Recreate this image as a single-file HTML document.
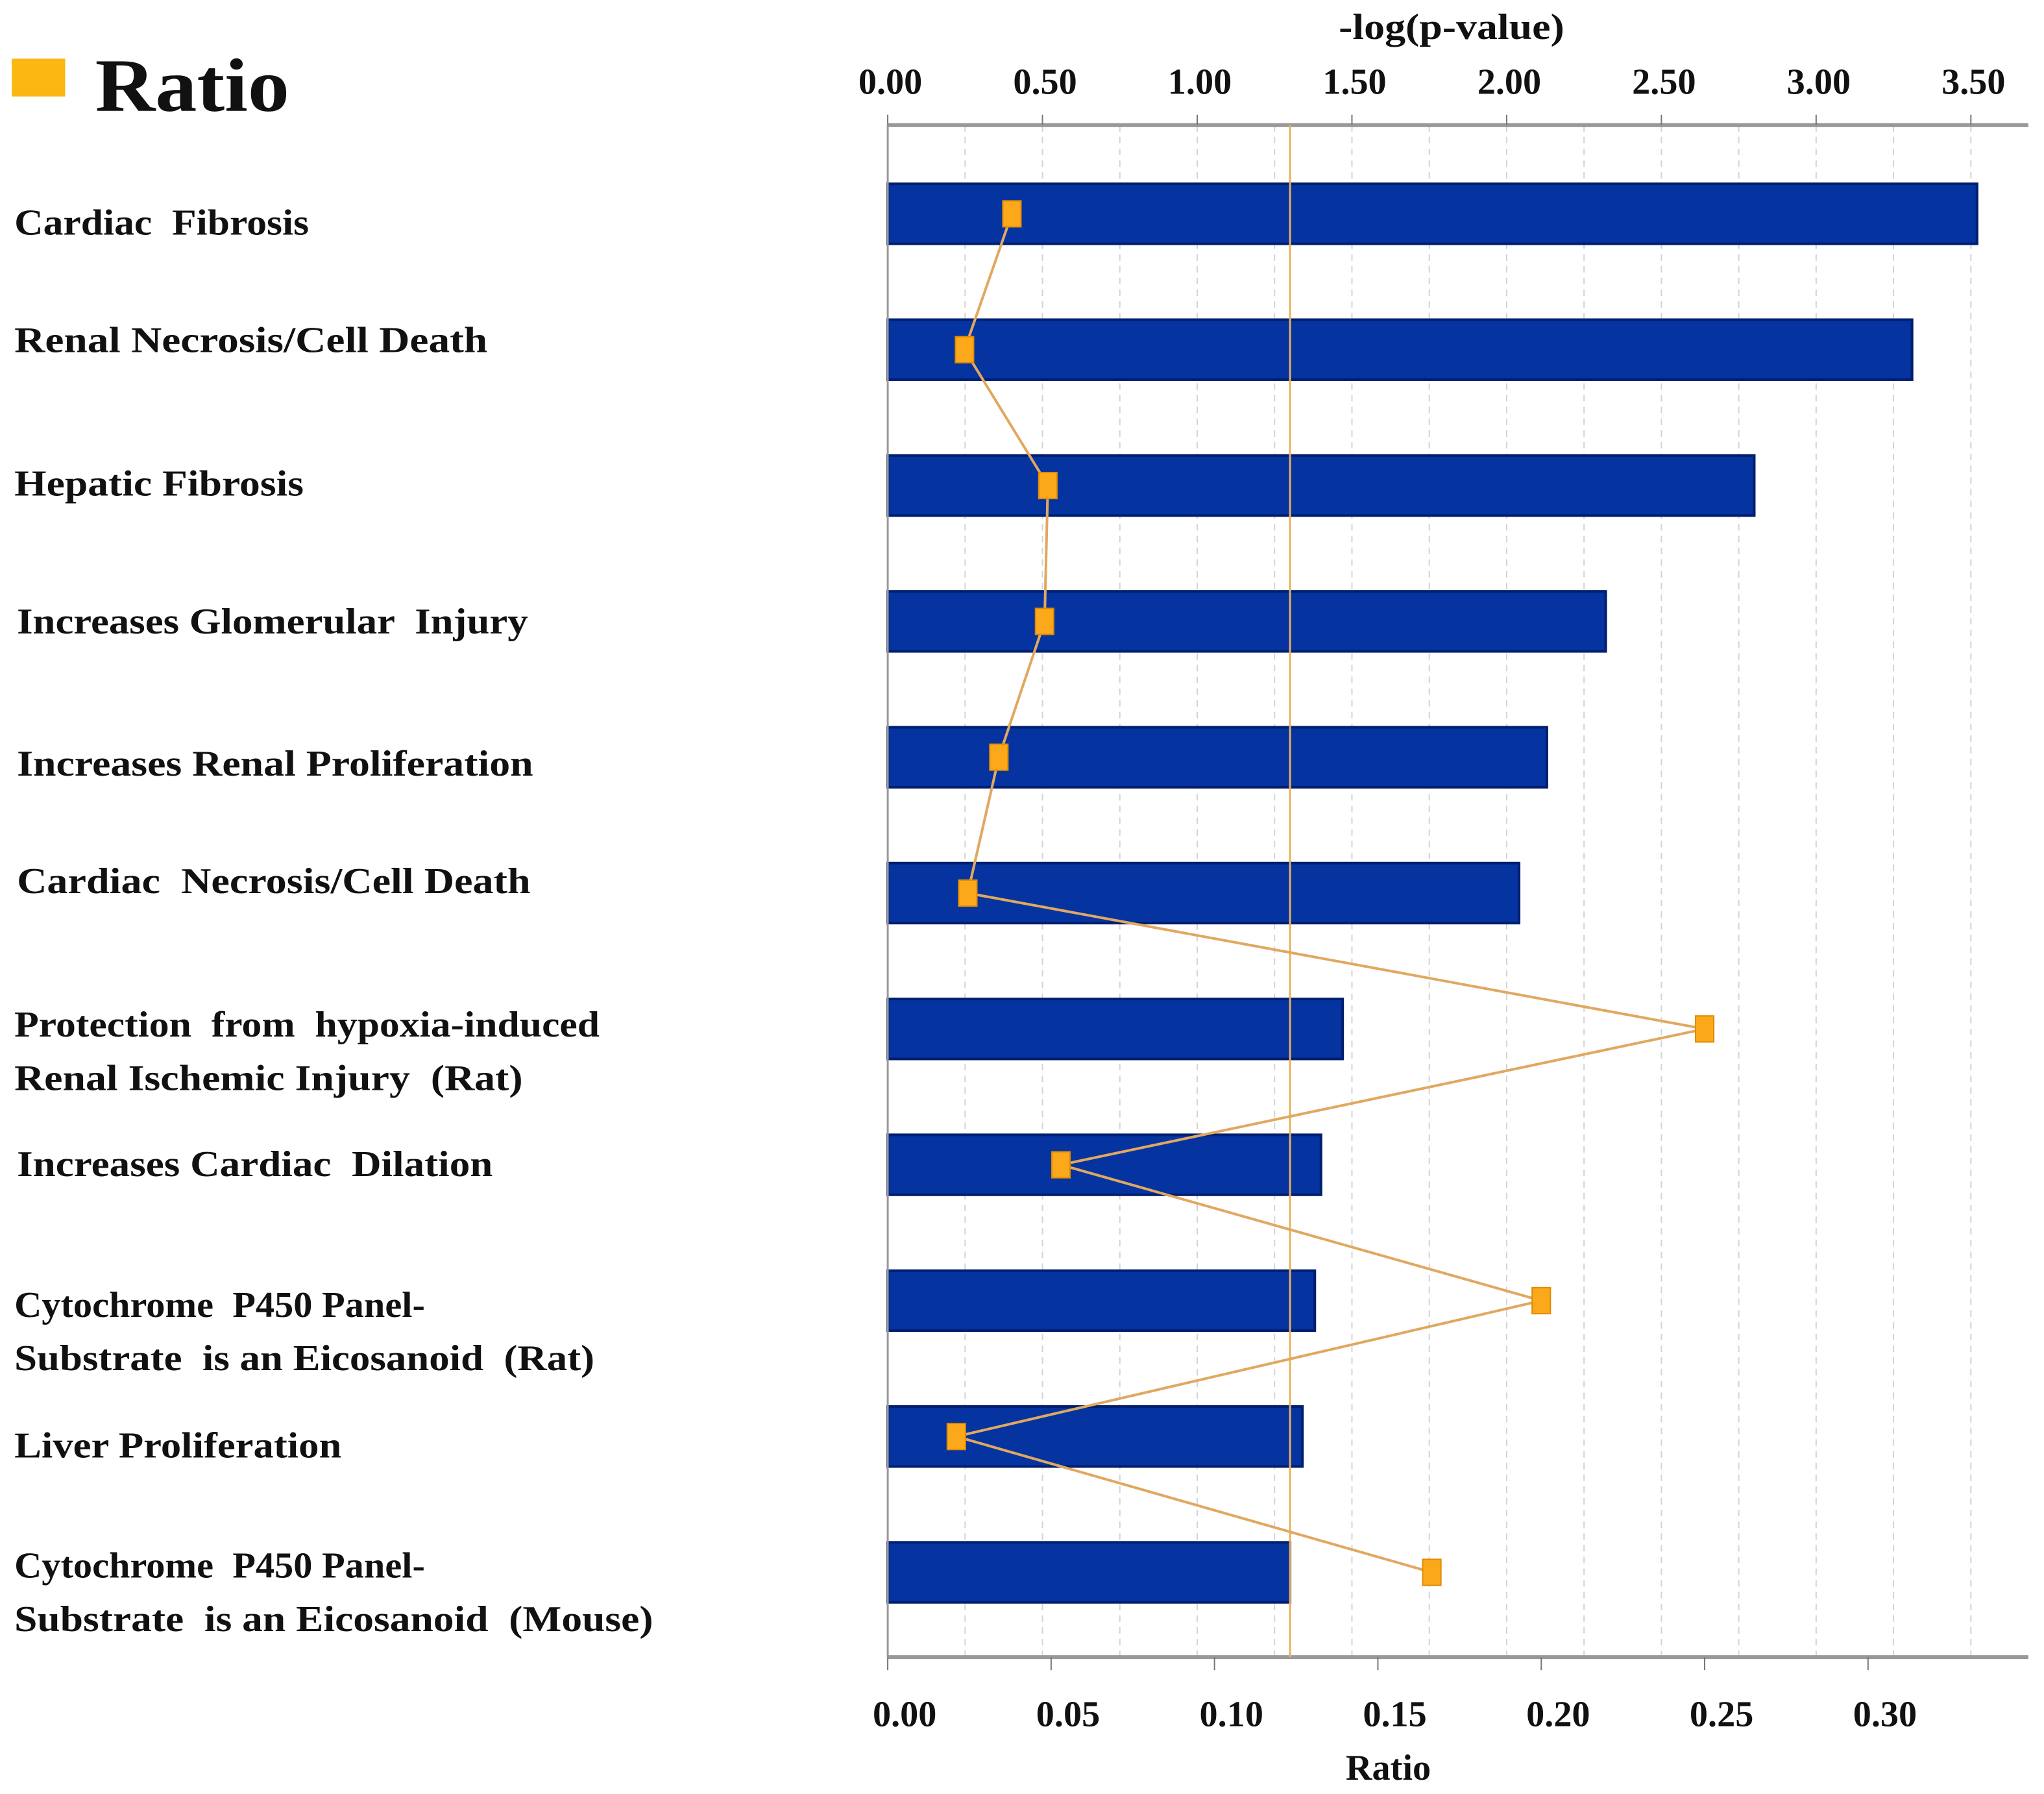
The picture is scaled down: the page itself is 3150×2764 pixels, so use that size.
<!DOCTYPE html>
<html><head><meta charset="utf-8"><style>
html,body{margin:0;padding:0;background:#fff}
svg{display:block}
text{font-family:"Liberation Serif",serif;font-weight:bold;fill:#111;white-space:pre}
</style></head><body>
<svg id="chart" width="3150" height="2764" viewBox="0 0 1568 1376" preserveAspectRatio="none" xmlns="http://www.w3.org/2000/svg">
<rect x="9" y="45" width="41" height="29" fill="#fbb812"/>
<text x="73" y="85" font-size="58" textLength="149" lengthAdjust="spacingAndGlyphs">Ratio</text>
<text x="1027" y="30" font-size="28" textLength="173" lengthAdjust="spacingAndGlyphs">-log(p-value)</text>
<text x="1065" y="1365" font-size="28" text-anchor="middle">Ratio</text>
<g id="grid"></g><g id="bars"></g><g id="axes"></g><g id="line"></g><g id="labels"></g>
</svg>
<script>
const categories=["Cardiac  Fibrosis","Renal Necrosis/Cell Death","Hepatic Fibrosis","Increases Glomerular  Injury","Increases Renal Proliferation","Cardiac  Necrosis/Cell Death","Protection  from  hypoxia-induced|Renal Ischemic Injury  (Rat)","Increases Cardiac  Dilation","Cytochrome  P450 Panel-|Substrate  is an Eicosanoid  (Rat)","Liver Proliferation","Cytochrome  P450 Panel-|Substrate  is an Eicosanoid  (Mouse)"];
const logP=[3.52,3.31,2.80,2.32,2.13,2.04,1.47,1.40,1.38,1.34,1.30];
const ratio=[0.038,0.0235,0.049,0.048,0.034,0.0245,0.25,0.053,0.20,0.021,0.1665];
const topTicks=["0.00","0.50","1.00","1.50","2.00","2.50","3.00","3.50"];
const bottomTicks=["0.00","0.05","0.10","0.15","0.20","0.25","0.30"];
const threshold=1.3;
const NS="http://www.w3.org/2000/svg";
const X0=681,XR=1556,YT=96,YB=1271;
const xLog=v=>X0+v*237.4;
const xRatio=v=>X0+v*2506.7;
const yRow=i=>164+i*104.2;
function mk(tag,attrs,parent){const e=document.createElementNS(NS,tag);for(const k in attrs)e.setAttribute(k,attrs[k]);document.getElementById(parent).appendChild(e);return e;}
for(let v=0.25;v<=3.5;v+=0.25){const g=mk('line',{x1:xLog(v),x2:xLog(v),y1:YT,y2:YB,stroke:'#d4d4d4','stroke-width':1,'stroke-dasharray':'5,4'},'grid');

}
let a=mk('line',{x1:X0,x2:XR,y1:YT,y2:YT,stroke:'#999','stroke-width':3},'axes');


a=mk('line',{x1:X0,x2:XR,y1:YB,y2:YB,stroke:'#999','stroke-width':3},'axes');


a=mk('line',{x1:X0,x2:X0,y1:YT,y2:YB,stroke:'#999','stroke-width':1.5},'axes');


topTicks.forEach(t=>{const x=xLog(parseFloat(t));
const tk=mk('line',{x1:x,x2:x,y1:YT-8,y2:YT,stroke:'#777','stroke-width':1},'axes');


const tx=mk('text',{x:x+2,y:72,'font-size':28,'text-anchor':'middle'},'axes');tx.textContent=t;

});
bottomTicks.forEach(t=>{const x=xRatio(parseFloat(t));
const tk=mk('line',{x1:x,x2:x,y1:YB,y2:YB+10,stroke:'#777','stroke-width':1},'axes');


const tx=mk('text',{x:x+13,y:1324,'font-size':28,'text-anchor':'middle'},'axes');tx.textContent=t;

});
logP.forEach((v,i)=>{const b=mk('rect',{x:X0,y:yRow(i)-23,width:xLog(v)-X0,height:46,fill:'#0533a0',stroke:'#001f70','stroke-width':2},'bars');

});
const th=mk('line',{x1:xLog(threshold),x2:xLog(threshold),y1:YT,y2:YB,stroke:'#e8b060','stroke-width':1.5},'axes');


const pts=ratio.map((r,i)=>xRatio(r)+','+yRow(i)).join(' ');
const pl=mk('polyline',{points:pts,fill:'none',stroke:'#e0a860','stroke-width':2},'line');


ratio.forEach((r,i)=>{const m=mk('rect',{x:xRatio(r)-7,y:yRow(i)-10,width:14,height:20,fill:'#fba81a',stroke:'#e08a00','stroke-width':1},'line');

});
const baseY=[180,270,380,486,595,685,795,902,1010,1118,1210];
const labelX=[11,11,11,13,13,13,11,13,11,11,11];
const labelW=[[226],[363],[222],[392],[396],[394],[449,390],[365],[315,445],[251],[315,490]];
categories.forEach((c,i)=>{c.split('|').forEach((ln,j)=>{const t=mk('text',{x:labelX[i],y:baseY[i]+j*41,'font-size':28,textLength:labelW[i][j],lengthAdjust:'spacingAndGlyphs'},'labels');t.textContent=ln;

});});
</script>
</body></html>
